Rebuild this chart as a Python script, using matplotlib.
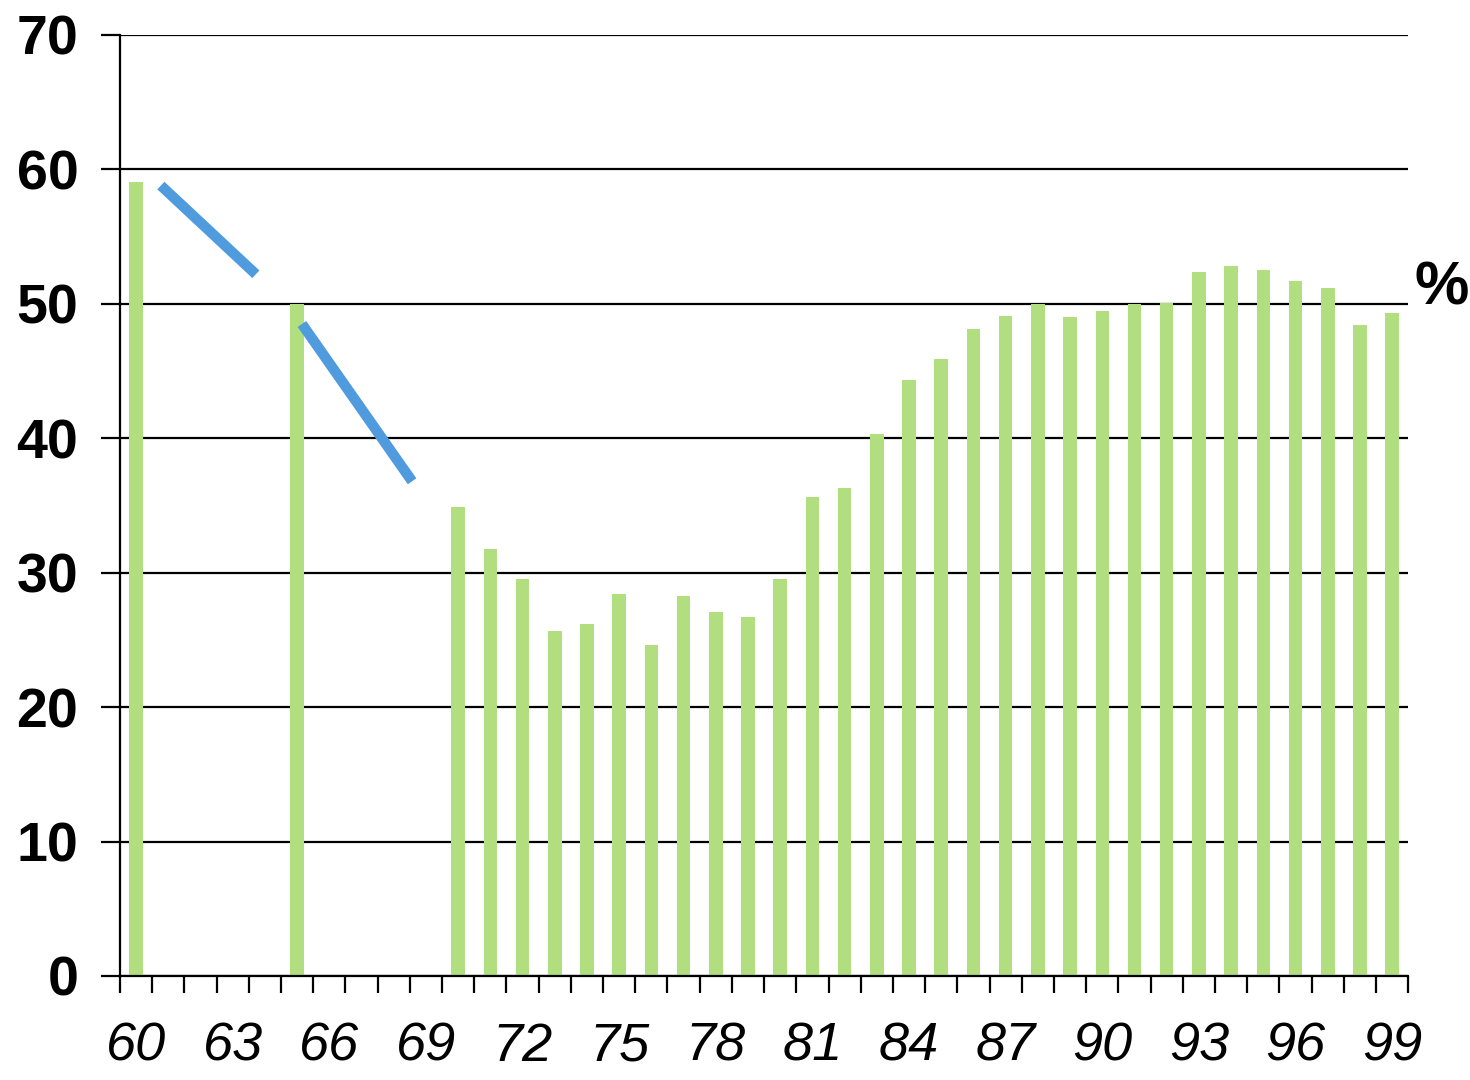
import matplotlib.pyplot as plt
import numpy as np

# data
years = [f"{y % 100:02d}" for y in range(1960, 2000)]
values = [59.1, None, None, None, None, 50.0, None, None, None, None,
          34.9, 31.8, 29.5, 25.7, 26.2, 28.4, 24.6, 28.3, 27.1, 26.7,
          29.5, 35.6, 36.3, 40.3, 44.3, 45.9, 48.1, 49.1, 50.0, 49.0,
          49.5, 50.0, 50.1, 52.4, 52.8, 52.5, 51.7, 51.2, 48.4, 49.3]
# two trend segments (category position, value)
seg1_x = [0.77, 3.72]
seg1_y = [58.8, 52.2]
seg2_x = [5.15, 8.57]
seg2_y = [48.5, 36.8]

BAR = "#b1df80"
LINE = "#4f9bde"

fig = plt.figure(figsize=(14.7, 10.8), dpi=100)
ax = fig.add_axes([0.0816, 0.0963, 0.958 - 0.0816, 0.9676 - 0.0963])

x = np.arange(len(years))
h = [v if v is not None else 0 for v in values]
ax.bar(x, h, width=0.42, color=BAR, zorder=3)
ax.plot(seg1_x, seg1_y, color=LINE, lw=7.5, solid_capstyle="butt", zorder=4)
ax.plot(seg2_x, seg2_y, color=LINE, lw=7.5, solid_capstyle="butt", zorder=4)

ax.set_xlim(-0.5, len(years) - 0.5)
ax.set_ylim(0, 70)

ax.set_yticks(range(0, 71, 10))
ax.yaxis.grid(True, color="black", lw=1.6, zorder=1)
ax.tick_params(axis="y", length=14, width=1.6, pad=16)
for lab in ax.get_yticklabels():
    lab.set_fontsize(40)
    lab.set_fontweight("bold")
    lab.set_family("Liberation Sans")

# ticks on category boundaries, labels every 3 years
ax.set_xticks(np.arange(-0.5, len(years), 1.0))
ax.set_xticklabels([])
ax.set_xticks(x[::3], minor=True)
ax.set_xticklabels(years[::3], minor=True, fontsize=39, style="italic",
                   family="Liberation Sans")
ax.tick_params(axis="x", which="major", length=12, width=1.6)
ax.tick_params(axis="x", which="minor", length=0, pad=33)

for s in ["top", "right"]:
    ax.spines[s].set_visible(False)
for s in ["left", "bottom"]:
    ax.spines[s].set_linewidth(1.6)
    ax.spines[s].set_zorder(5)

fig.text(0.962, 0.732, "%", fontsize=44, fontweight="bold",
         family="Liberation Sans", va="center", ha="left")

fig.savefig("out.png", dpi=100)
